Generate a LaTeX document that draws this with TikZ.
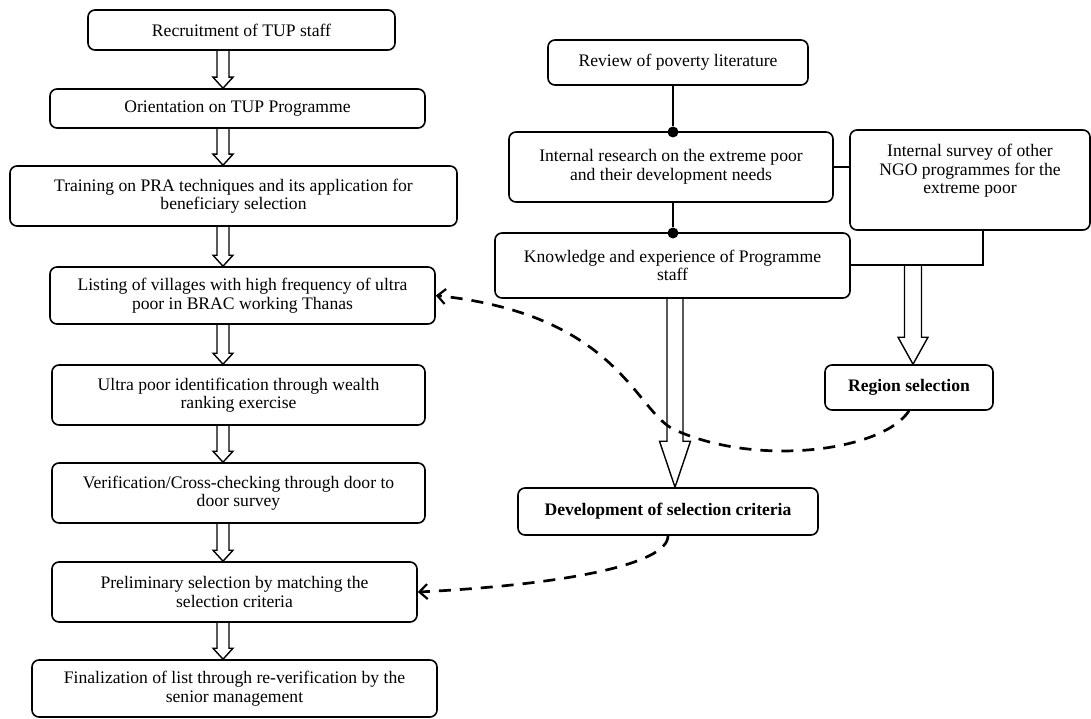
\documentclass[tikz,border=0pt]{standalone}
\usepackage{fontspec}
\setmainfont{Liberation Serif}
\usetikzlibrary{calc,arrows.meta}
\tikzset{
  box/.style={draw, line width=1.6pt, rounded corners=7pt, align=center, inner sep=0pt},
  hollow/.style={draw, line width=1.4pt, line join=miter},
  dot/.style={circle, fill, inner sep=0pt, minimum size=11pt},
  conn/.style={line width=1.6pt},
  dasharrow/.style={line width=2.7pt, dash pattern=on 12pt off 9pt, -{Straight Barb[length=8pt,width=15pt,line width=2.2pt]}}
}
\newcommand\harrow[6]{\draw[hollow] let \p1=(#2), \p2=(#3) in
  (#1pt-#4pt,\y1) -- (#1pt-#4pt,\y2+#6pt) -- (#1pt-#5pt,\y2+#6pt) -- (#1pt,\y2)
  -- (#1pt+#5pt,\y2+#6pt) -- (#1pt+#4pt,\y2+#6pt) -- (#1pt+#4pt,\y1);}
\begin{document}
\begin{tikzpicture}[x=1pt, y=-1pt, font=\fontsize{17.6}{18.5}\selectfont]
\useasboundingbox (0,0) rectangle (1091,719);
% left column
\node[box, minimum width=307pt, minimum height=40pt] (n1) at (241.5,30) {Recruitment of TUP staff};
\node[box, minimum width=375pt, minimum height=39pt] (n2) at (237.5,108.5) {Orientation on TUP Programme};
\node[box, minimum width=447pt, minimum height=60pt] (n3) at (233.5,196) {Training on PRA techniques and its application for\\beneficiary selection};
\node[box, minimum width=385pt, minimum height=57pt] (n4) at (242.5,295.5) {Listing of villages with high frequency of ultra\\poor in BRAC working Thanas};
\node[box, minimum width=373pt, minimum height=60pt] (n5) at (238.5,395) {Ultra poor identification through wealth\\ranking exercise};
\node[box, minimum width=373pt, minimum height=60pt] (n6) at (238.5,493) {Verification/Cross-checking through door to\\door survey};
\node[box, minimum width=365pt, minimum height=60pt] (n7) at (234.5,592) {Preliminary selection by matching the\\selection criteria};
\node[box, minimum width=405pt, minimum height=57pt] (n8) at (234.5,688.5) {Finalization of list through re-verification by the\\senior management};
% right part
\node[box, minimum width=260pt, minimum height=45pt] (review) at (678,62.5) {Review of poverty literature};
\node[box, minimum width=324pt, minimum height=70pt] (research) at (671,167) {Internal research on the extreme poor\\and their development needs};
\node[box, minimum width=355pt, minimum height=65pt] (knowledge) at (672.5,265.5) {Knowledge and experience of Programme\\staff};
\node[box, minimum width=240pt, minimum height=100pt] (survey) at (970,180) {\raisebox{4pt}[0pt][0pt]{\begin{tabular}{@{}c@{}}Internal survey of other\\NGO programmes for the\\extreme poor\end{tabular}}};
\node[box, minimum width=168pt, minimum height=45pt, font=\fontsize{17.6}{18.5}\selectfont\bfseries] (region) at (909,387.5) {Region selection};
\node[box, minimum width=300pt, minimum height=47pt, font=\fontsize{17.6}{18.5}\selectfont\bfseries] (dev) at (668,511.5) {Development of selection criteria};
% dots and plain connectors
\node[dot] (dot1) at (673,132) {};
\node[dot] (dot2) at (673,233) {};
\draw[conn] (review.south -| dot1) -- (dot1);
\draw[conn] (research.south -| dot2) -- (dot2);
\draw[conn] (research.east) -- (research.east -| survey.west);
\coordinate (j1) at (983,265);
\coordinate (j2) at (913,265);
\draw[conn] (survey.south -| j1) -- (j1) -- (j1 -| knowledge.east);
% hollow arrows
\harrow{223}{n1.south}{n2.north}{6}{10}{11}
\harrow{223}{n2.south}{n3.north}{6}{10}{11}
\harrow{223}{n3.south}{n4.north}{6}{10}{11}
\harrow{223}{n4.south}{n5.north}{6}{10}{11}
\harrow{223}{n5.south}{n6.north}{6}{10}{11}
\harrow{223}{n6.south}{n7.north}{6}{10}{11}
\harrow{223}{n7.south}{n8.north}{6}{10}{11}
\harrow{913}{j2}{region.north}{8.5}{15}{27}
\harrow{675}{knowledge.south}{dev.north}{8}{15.5}{46}
% dashed curves
\draw[dasharrow] (region.south) .. controls (884,450) and (760,468) .. (675,430)
  .. controls (635,412) and (620,315) .. (n4.east);
\draw[dasharrow] (dev.south) .. controls (668,565) and (560,585) .. (n7.east);
\end{tikzpicture}
\end{document}
